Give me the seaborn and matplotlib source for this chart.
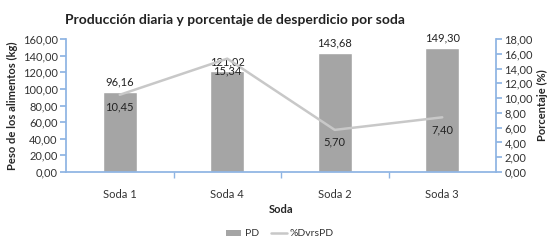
import matplotlib
matplotlib.use("Agg")
import matplotlib.pyplot as plt
import seaborn as sns
import pandas as pd
import numpy as np

categories = ["Soda 1", "Soda 4", "Soda 2", "Soda 3"]
pd_values = [96.16, 121.02, 143.68, 149.30]
pct_values = [10.45, 15.34, 5.70, 7.40]

sns.set_theme(style="white")
plt.rcParams['font.family'] = ['Lato', 'DejaVu Sans']

df = pd.DataFrame({"Soda": categories, "PD": pd_values, "%DvrsPD": pct_values})

fig = plt.figure(figsize=(5.56, 2.42), dpi=100)
ax = fig.add_axes([66/556, 1 - 172/242, (496-66)/556, (172-39)/242])
bar_color = "#a5a5a5"
line_color = "#c8c8c8"
axis_color = "#8eb4e3"

sns.barplot(data=df, x="Soda", y="PD", color=bar_color, width=0.32, ax=ax,
            saturation=1, label="PD")
if ax.get_legend() is not None:
    ax.get_legend().remove()
ax.set_ylim(0, 160)
ax.set_yticks(np.arange(0, 161, 20))
ax.set_yticklabels([f"{v:.2f}".replace(".", ",") for v in np.arange(0, 161, 20)])
ax.set_xlim(-0.5, 3.5)

ax2 = ax.twinx()
sns.lineplot(x=np.arange(len(categories)), y=pct_values, color=line_color, lw=1.8, ax=ax2,
             label="%DvrsPD", legend=False)
if ax2.get_legend() is not None:
    ax2.get_legend().remove()
ax2.set_ylim(0, 18)
ax2.set_yticks(np.arange(0, 19, 2))
ax2.set_yticklabels([f"{v:.2f}".replace(".", ",") for v in np.arange(0, 19, 2)])
ax2.set_xlim(-0.5, 3.5)

fs = 8
for a in (ax, ax2):
    for s in a.spines.values():
        s.set_visible(False)
ax.spines['left'].set_visible(True)
ax.spines['left'].set_color(axis_color)
ax.spines['bottom'].set_visible(True)
ax.spines['bottom'].set_color(axis_color)
ax2.spines['right'].set_visible(True)
ax2.spines['right'].set_color(axis_color)

ax.tick_params(axis='y', which='both', left=True, length=4, color=axis_color, labelsize=fs, pad=2, labelcolor="#333333")
ax2.tick_params(axis='y', right=True, length=4, color=axis_color, labelsize=fs, pad=2, labelcolor="#333333")
ax.set_xticks(range(len(categories)))
ax.set_xticklabels(categories)
ax.tick_params(axis='x', which='major', bottom=False, labelsize=fs, pad=6, labelcolor="#333333")
ax.set_xticks([0.5, 1.5, 2.5], minor=True)
ax.tick_params(axis='x', which='minor', bottom=True, length=4, color=axis_color)

ax.set_xlabel("Soda", fontsize=fs, fontweight="bold", labelpad=3)
ax.set_ylabel("Peso de los alimentos (kg)", fontsize=fs, fontweight="bold", labelpad=3)
ax2.set_ylabel("Porcentaje (%)", fontsize=fs, fontweight="bold", labelpad=3)

for i, v in enumerate(pd_values):
    ax.annotate(f"{v:.2f}".replace(".", ","), (i, v), xytext=(0, 3), textcoords="offset points",
                ha="center", va="bottom", fontsize=fs, color="#222222")
for i, v in enumerate(pct_values):
    ax2.annotate(f"{v:.2f}".replace(".", ","), (i, v), xytext=(0, -5), textcoords="offset points",
                 ha="center", va="top", fontsize=fs, color="#222222")

fig.text(65/556, 1 - 20/242, "Producción diaria y porcentaje de desperdicio por soda",
         fontsize=10, fontweight="bold", ha="left", va="center", color="#222222")

from matplotlib.patches import Patch
from matplotlib.lines import Line2D
handles = [Patch(facecolor=bar_color, edgecolor="none"),
           Line2D([0], [0], color=line_color, lw=1.8)]
fig.legend(handles, ["PD", "%DvrsPD"], loc="center", bbox_to_anchor=(280/556, 1 - 234/242), ncol=2,
           frameon=False, fontsize=7.5, handlelength=1.5, handleheight=0.6, handletextpad=0.3,
           columnspacing=1.2, labelcolor="#333333")

fig.savefig("out.png", dpi=100)
